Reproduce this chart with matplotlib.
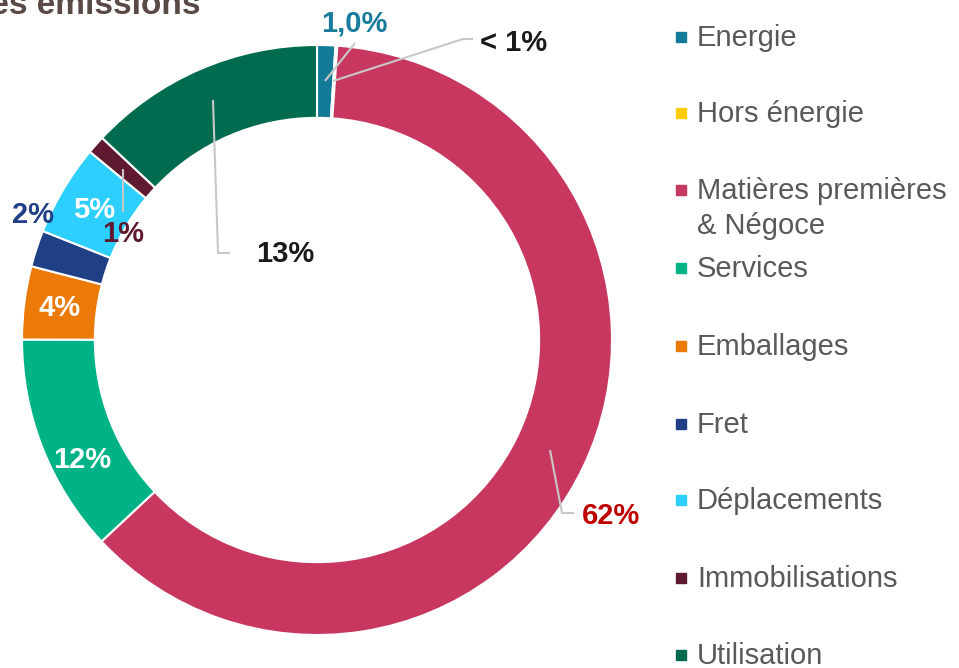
import matplotlib.pyplot as plt
from matplotlib.patches import Rectangle

# Répartition des émissions par poste
categories = ['Energie', 'Hors énergie', 'Matières premières\n& Négoce', 'Services',
              'Emballages', 'Fret', 'Déplacements', 'Immobilisations', 'Utilisation']
values = [1.0, 0.1, 62, 12, 4, 2, 5, 1, 13]
labels = ['1,0%', '< 1%', '62%', '12%', '4%', '2%', '5%', '1%', '13%']
colors = ['#137A98', '#FFCC00', '#C8375F', '#00B386', '#EC7A08',
          '#1F3F87', '#2DCFFF', '#5F1A30', '#006B4E']
label_colors = ['#1A7C9C', '#1A1A1A', '#C00000', 'white', 'white',
                '#1F3F87', 'white', '#5F1A30', '#1A1A1A']

W, H = 959, 668
CX, CY, R = 317, 340, 295

fig = plt.figure(figsize=(W / 100, H / 100), dpi=100)
ax = fig.add_axes([(CX - R) / W, (H - CY - R) / H, 2 * R / W, 2 * R / H])

ax.pie(values, colors=colors, startangle=90, counterclock=False, radius=1,
       wedgeprops=dict(width=0.247, edgecolor='white', linewidth=1.5))
# pie() impose ses propres limites : on les remet après
ax.set_xlim(-1, 1)
ax.set_ylim(-1, 1)
ax.set_aspect('equal')
ax.axis('off')


def px(x, y):
    # pixel (depuis le haut à gauche) -> coordonnées du graphique
    return (x - CX) / R, (CY - y) / R


# positions des étiquettes
label_pos = [(354, 23), (514, 43), (611, 516), (82, 460), (60, 308),
             (33, 215), (94, 210), (123, 234), (285, 254)]
for txt, col, (x, y) in zip(labels, label_colors, label_pos):
    ax.text(*px(x, y), txt, ha='center', va='center', fontsize=21,
            fontweight='bold', color=col, family='Liberation Sans')

# lignes de rappel
leaders = [
    [(325, 81), (355, 43)],
    [(333, 81), (463, 39), (473, 39)],
    [(550, 450), (562, 513), (574, 513)],
    [(123, 169), (123, 212)],
    [(213, 100), (218, 253), (230, 253)],
]
for pts in leaders:
    xs, ys = zip(*[px(x, y) for x, y in pts])
    ax.plot(xs, ys, color='#C8C8C8', lw=1.5, solid_capstyle='butt', clip_on=False)

# légende
leg_y = [37, 113, 190, 268, 346, 424, 500, 578, 655]
for name, col, y in zip(categories, colors, leg_y):
    fig.patches.append(Rectangle((676 / W, (H - y - 5) / H), 10 / W, 10 / H,
                                 transform=fig.transFigure, color=col))
    for i, line in enumerate(name.split('\n')):
        fig.text(697 / W, (H - y - 9 - 35 * i) / H, line, ha='left', va='baseline',
                 fontsize=21, color='#595959', family='Liberation Sans')

# titre (coupé en haut)
fig.text(200 / W, (H - 14) / H, 'des émissions', ha='right', va='baseline',
         fontsize=24, fontweight='bold', color='#5A4A45', family='Liberation Sans')

fig.savefig('out.png', dpi=100)
